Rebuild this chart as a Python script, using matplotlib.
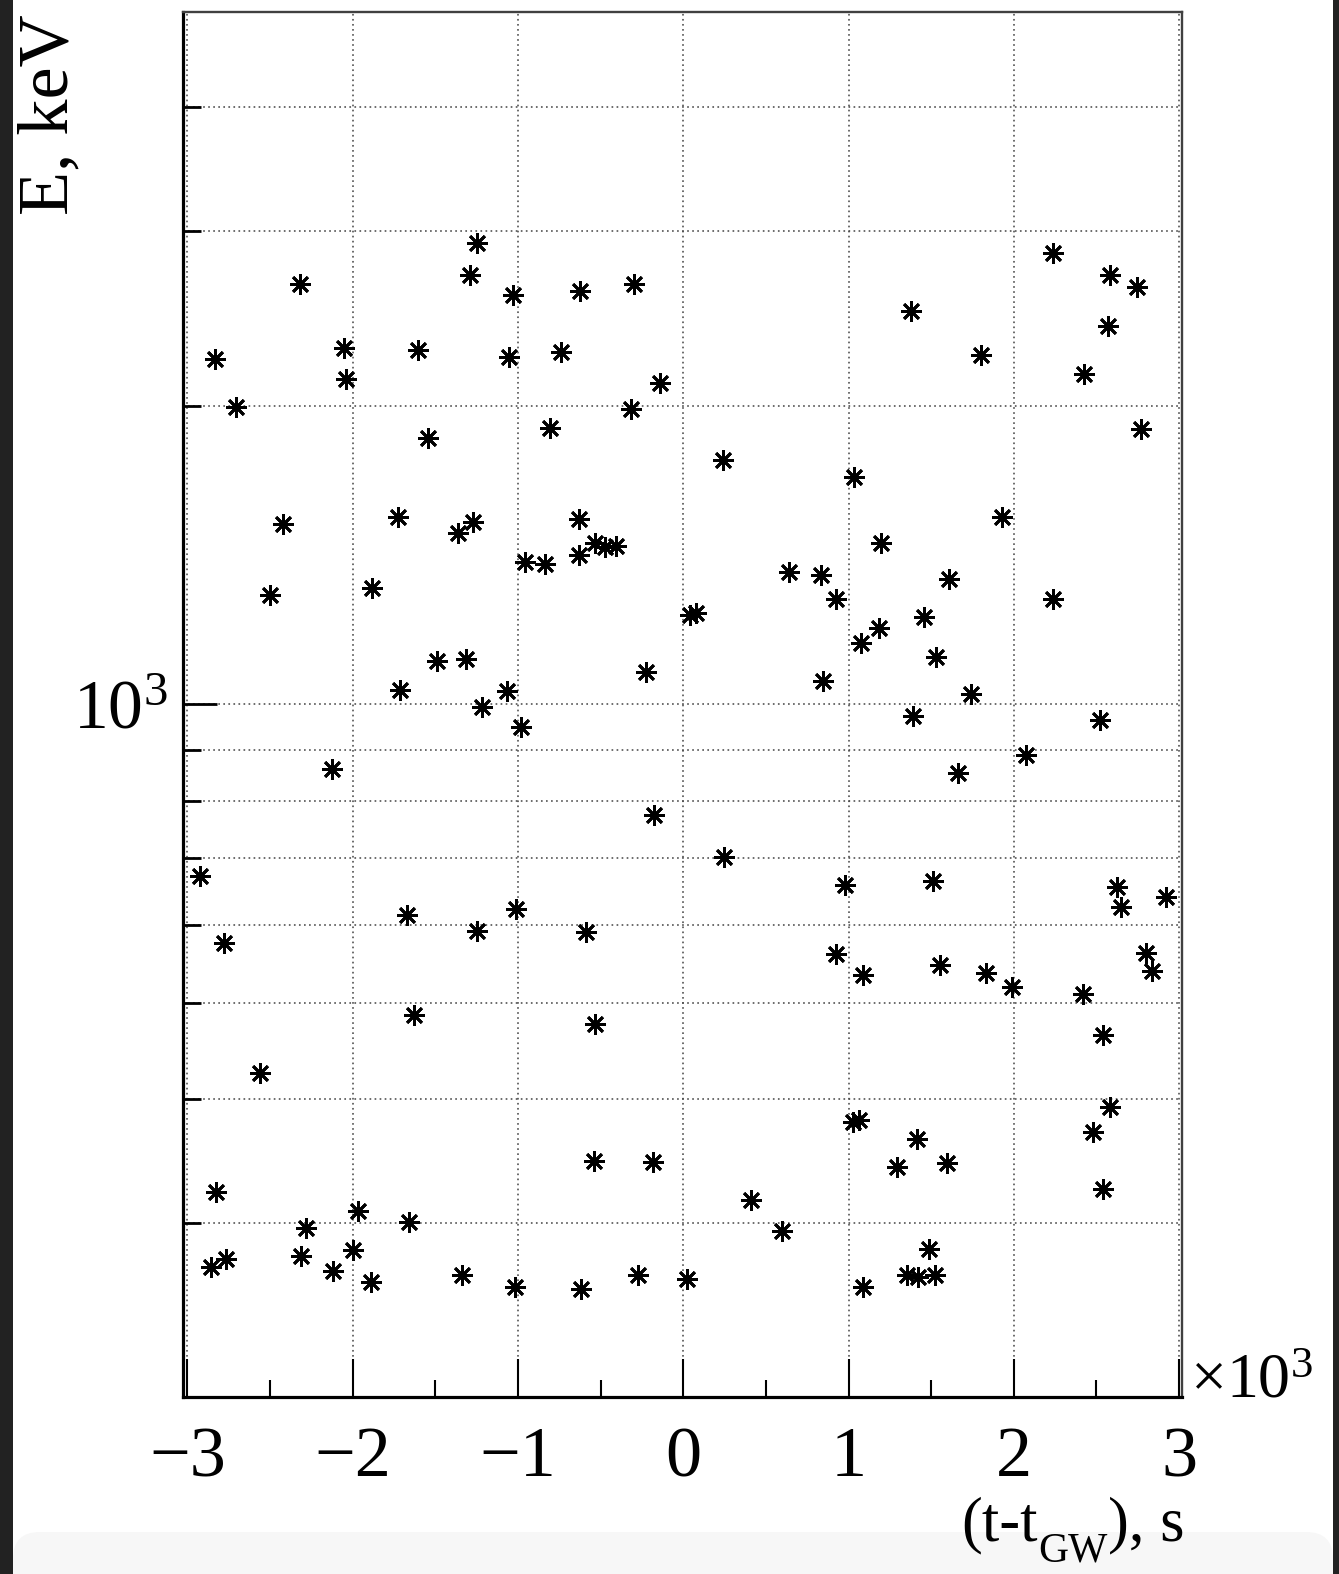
import matplotlib
matplotlib.use("Agg")
import matplotlib.pyplot as plt
from matplotlib.ticker import FixedLocator, FixedFormatter, FuncFormatter, NullFormatter
from matplotlib.patches import Rectangle, FancyBboxPatch

plt.rcParams['font.family'] = ['Liberation Serif', 'DejaVu Serif']
plt.rcParams['mathtext.fontset'] = 'custom'
plt.rcParams['mathtext.rm'] = 'Liberation Serif'
plt.rcParams['mathtext.it'] = 'Liberation Serif:italic'
plt.rcParams['mathtext.bf'] = 'Liberation Serif:bold'

# Event times relative to the GW trigger (s) and their energies (keV)
t_sec = [
    -1251, -1293, -2317, -1033, -622, -295, -2835, -2054, -2042, -1608,
    -1053, -740, -2704, -315, -141, -1542, -805, -2422, -1727, -1360,
    -1271, -630, -630, -531, -472, -404, -957, -838, -1881, -2498,
    -1715, -1489, -1315, -1215, -1065, -979, -226, -2127, -176, -2922,
    -2780, -1673, -1011, -1251, -587, -1630, -531, -2562,
    -2825, -543, -183, -1966, -2280, -1660, -2857, -2768, -2314, -2119,
    -1998, -1889, -1336, -1021, -619, -272, 20,
    2236, 2585, 2748, 2573, 2422, 1380, 1802, 2770, 240, 1031,
    1194, 1931, 642, 835, 1606,
    41, 77, 926, 2236, 1076, 1185, 1455, 1532, 848, 1739,
    1390, 2520, 2075, 1660, 248, 981, 1512, 2627, 2651, 2922,
    924, 1088, 1554, 1834, 1990, 2421, 2803, 2837, 2542,
    1029, 1065, 2583, 2478, 1412, 1291, 1598, 2542, 413, 595,
    1487, 1356, 1423, 1524, 1088,
]
energy_kev = [
    2918, 2705, 2651, 2584, 2610, 2651, 2227, 2288, 2127, 2274,
    2240, 2263, 1992, 1983, 2106, 1854, 1900, 1520, 1543, 1487,
    1526, 1536, 1414, 1453, 1442, 1444, 1392, 1385, 1311, 1289,
    1035, 1106, 1112, 994, 1031, 949, 1079, 861, 774, 672,
    575, 613, 622, 591, 590, 486, 476, 425,
    323, 347, 346, 309, 297, 301, 271, 276, 278, 269,
    282, 262, 266, 259, 258, 266, 264,
    2847, 2705, 2635, 2405, 2150, 2490, 2248, 1893, 1762, 1693,
    1453, 1543, 1358, 1351, 1337,
    1230, 1237, 1277, 1278, 1152, 1194, 1226, 1117, 1056, 1024,
    974, 964, 889, 853, 702, 658, 664, 654, 625, 639,
    561, 534, 547, 536, 519, 511, 562, 539, 464,
    380, 381, 393, 371, 365, 342, 345, 325, 317, 295,
    283, 266, 265, 266, 259,
]

x_major = [-3000, -2000, -1000, 0, 1000, 2000, 3000]
x_minor = [-2500, -1500, -500, 500, 1500, 2500]
y_major = [1000]
y_minor = [300, 400, 500, 600, 700, 800, 900, 2000, 3000, 4000]

W, H = 1339, 1574
fig = plt.figure(figsize=(W / 100, H / 100), dpi=100)
fig.patch.set_facecolor('white')

# window chrome around the canvas
fig.add_artist(FancyBboxPatch((13 / W, -0.05), (1333 - 13) / W, (1574 - 1532) / H + 0.05,
                              boxstyle="round,pad=0,rounding_size=0.02",
                              transform=fig.transFigure, facecolor='#f7f7f7',
                              edgecolor='none', zorder=0, mutation_aspect=W / H))
fig.add_artist(Rectangle((0, 0), 13 / W, 1, transform=fig.transFigure,
                         facecolor='#222222', edgecolor='none', zorder=0))
fig.add_artist(Rectangle((1333 / W, 0), 1 - 1333 / W, 1, transform=fig.transFigure,
                         facecolor='#222222', edgecolor='none', zorder=0))

left, right, top, bottom = 183, 1182, 12, 1397
ax = fig.add_axes([left / W, (H - bottom) / H, (right - left) / W, (bottom - top) / H])
ax.set_facecolor('white')

ax.plot(t_sec, energy_kev, linestyle='none', marker=(8, 2, 0), markersize=15,
        markeredgewidth=2.0, color='black', clip_on=False, zorder=3)

ax.set_yscale('log')
ax.set_xlim(-3027, 3018)
ax.set_ylim(200.6, 4983)

ax.xaxis.set_major_locator(FixedLocator(x_major))
ax.xaxis.set_minor_locator(FixedLocator(x_minor))
ax.xaxis.set_major_formatter(FuncFormatter(lambda v, p: f"{v / 1000:g}".replace('-', '\u2212')))
ax.xaxis.set_minor_formatter(NullFormatter())

ax.yaxis.set_major_locator(FixedLocator(y_major))
ax.yaxis.set_minor_locator(FixedLocator(y_minor))
ax.yaxis.set_major_formatter(FixedFormatter([r"$\mathrm{10^{3}}$"]))
ax.yaxis.set_minor_formatter(NullFormatter())

grid_style = dict(color='#444444', linewidth=1.1, linestyle=(0, (1.1, 2.2)))
ax.xaxis.grid(True, which='major', **grid_style)
ax.yaxis.grid(True, which='both', **grid_style)

ax.tick_params(axis='x', which='major', direction='in', length=27.5, width=1.5,
               labelsize=52, pad=21, top=False)
ax.tick_params(axis='x', which='minor', direction='in', length=12.5, width=1.5, top=False)
ax.tick_params(axis='y', which='major', direction='in', length=24.5, width=2.0,
               labelsize=50, pad=11, right=False)
ax.tick_params(axis='y', which='minor', direction='in', length=13, width=2.0, right=False)

for side in ('left', 'bottom'):
    ax.spines[side].set_linewidth(2.3)
    ax.spines[side].set_color('black')
for side in ('top', 'right'):
    ax.spines[side].set_linewidth(1.7)
    ax.spines[side].set_color('#404040')

ax.text(1.008, 0.0, r"$\mathrm{\times10^{3}}$", transform=ax.transAxes,
        ha='left', va='baseline', fontsize=46)

# axis titles
renderer = fig.canvas.get_renderer()
t_tail = fig.text(1184 / W, (H - 1540) / H, "), s", ha='right', va='baseline', fontsize=45)
bb_tail = t_tail.get_window_extent(renderer)
t_sub = fig.text(bb_tail.x0 / W, (H - 1562) / H, "GW", ha='right', va='baseline', fontsize=30)
bb_sub = t_sub.get_window_extent(renderer)
fig.text(bb_sub.x0 / W, (H - 1540) / H, "(t-t", ha='right', va='baseline', fontsize=45)

fig.text(67 / W, (H - 14) / H, "E, keV", rotation=90, rotation_mode='anchor',
         ha='right', va='baseline', fontsize=52)

fig.savefig("out.png", dpi=100)
